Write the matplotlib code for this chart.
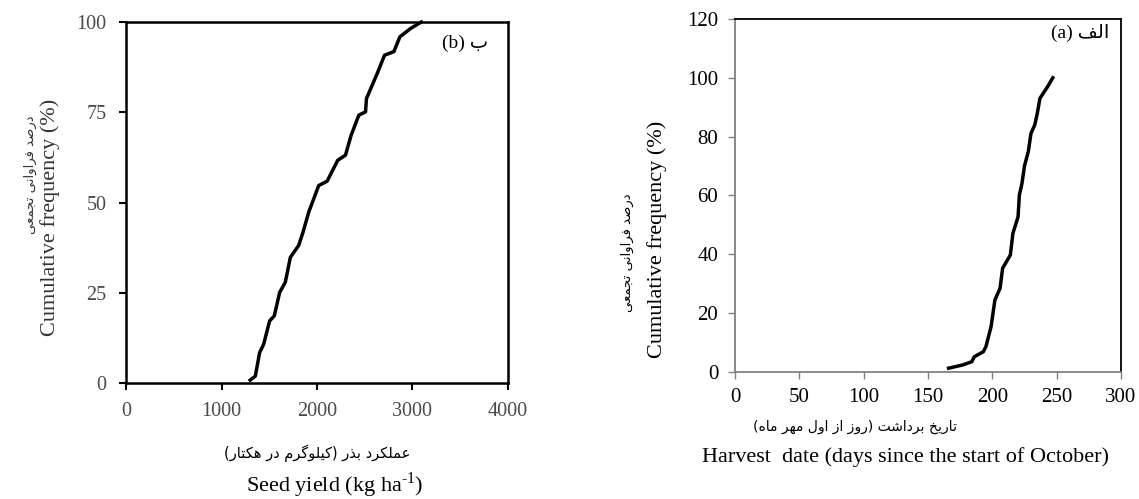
import matplotlib
matplotlib.use("Agg")
import matplotlib.pyplot as plt

plt.rcParams["font.family"] = ["Liberation Serif", "DejaVu Sans"]
plt.rcParams["mathtext.fontset"] = "custom"
plt.rcParams["mathtext.rm"] = "Liberation Serif"

# panel (b): seed yield cumulative frequency
yield_kg = [1300, 1354, 1399, 1441, 1504, 1553, 1609, 1668, 1721, 1808, 1854, 1913,
            2018, 2106, 2217, 2298, 2357, 2438, 2508, 2518, 2630, 2707, 2805, 2868,
            2980, 3092]
yield_cum = [0.8, 1.9, 8.4, 10.7, 17.2, 18.6, 25.1, 27.9, 34.8, 38.1, 41.8, 47.3,
             54.7, 55.9, 61.7, 63.1, 68.6, 74.2, 75.1, 78.8, 85.7, 90.8, 91.8, 95.9,
             98.2, 100]

# panel (a): harvest date cumulative frequency
harvest_day = [166, 177, 184, 186, 193, 195, 199, 202, 206, 208, 214, 216, 220, 221,
               223, 225, 228, 230, 233, 235, 237, 240, 243, 247]
harvest_cum = [1.2, 2.3, 3.4, 5.1, 6.8, 8.5, 15.3, 24.4, 28.4, 35.2, 39.7, 47.1, 52.7,
               60.1, 64, 70, 75, 81, 84, 88, 93, 95, 97, 100]

FORMS = {
    "ا": ("\uFE8D", "\uFE8E", None, None),
    "ب": ("\uFE8F", "\uFE90", "\uFE91", "\uFE92"),
    "ت": ("\uFE95", "\uFE96", "\uFE97", "\uFE98"),
    "ج": ("\uFE9D", "\uFE9E", "\uFE9F", "\uFEA0"),
    "خ": ("\uFEA5", "\uFEA6", "\uFEA7", "\uFEA8"),
    "د": ("\uFEA9", "\uFEAA", None, None),
    "ذ": ("\uFEAB", "\uFEAC", None, None),
    "ر": ("\uFEAD", "\uFEAE", None, None),
    "ز": ("\uFEAF", "\uFEB0", None, None),
    "ش": ("\uFEB5", "\uFEB6", "\uFEB7", "\uFEB8"),
    "ص": ("\uFEB9", "\uFEBA", "\uFEBB", "\uFEBC"),
    "ع": ("\uFEC9", "\uFECA", "\uFECB", "\uFECC"),
    "ف": ("\uFED1", "\uFED2", "\uFED3", "\uFED4"),
    "ل": ("\uFEDD", "\uFEDE", "\uFEDF", "\uFEE0"),
    "م": ("\uFEE1", "\uFEE2", "\uFEE3", "\uFEE4"),
    "ن": ("\uFEE5", "\uFEE6", "\uFEE7", "\uFEE8"),
    "ه": ("\uFEE9", "\uFEEA", "\uFEEB", "\uFEEC"),
    "و": ("\uFEED", "\uFEEE", None, None),
    "ی": ("\uFBFC", "\uFBFD", "\uFBFE", "\uFBFF"),
    "ک": ("\uFB8E", "\uFB8F", "\uFB90", "\uFB91"),
    "گ": ("\uFB92", "\uFB93", "\uFB94", "\uFB95"),
}


def fa(text):
    # poor man's arabic shaping + right-to-left ordering
    out = []
    for i, ch in enumerate(text):
        f = FORMS.get(ch)
        if f is None:
            out.append(ch)
            continue
        prev = text[i - 1] if i > 0 else ""
        nxt = text[i + 1] if i + 1 < len(text) else ""
        jp = prev in FORMS and FORMS[prev][2] is not None
        jn = f[2] is not None and nxt in FORMS
        if jp and jn:
            out.append(f[3])
        elif jp:
            out.append(f[1])
        elif jn:
            out.append(f[2])
        else:
            out.append(f[0])
    s = "".join(out)[::-1]
    return s.translate(str.maketrans("()", ")("))


W, H = 1139, 499
fig = plt.figure(figsize=(W / 100, H / 100), dpi=100)


def px(x, y):
    return x / W, 1 - y / H


PERSIAN = ["DejaVu Sans"]

# ---- left panel (b)
axb = fig.add_axes([126 / W, 1 - 383 / H, 382 / W, 361 / H])
axb.plot(yield_kg, yield_cum, color="black", lw=2.5, solid_joinstyle="round", clip_on=False)
axb.set_xlim(0, 4000)
axb.set_ylim(0, 100)
axb.set_xticks([0, 1000, 2000, 3000, 4000])
axb.set_yticks([0, 25, 50, 75, 100])
for s in axb.spines.values():
    s.set_linewidth(1.8)
    s.set_color("black")
axb.tick_params(direction="out", length=5, width=1.5, color="black",
                labelsize=14.5, labelcolor="#4a4a4a", pad=9)
axb.text(0.948, 0.94, "(b) " + fa("ب"), transform=axb.transAxes, ha="right", va="center",
         fontsize=14, family=["Liberation Serif", "DejaVu Sans"])

fig.text(*px(30, 175), fa("درصد فراوانی تجمعی"), rotation=90, ha="center", va="center",
         fontsize=9.5, family=PERSIAN, color="#333333")
fig.text(*px(50, 217), "Cumulative frequency (%)", rotation=90, ha="center", va="center",
         fontsize=16, color="#333333")
fig.text(*px(317, 453), fa("عملکرد بذر (کیلوگرم در هکتار)"), ha="center", va="center",
         fontsize=10.5, family=PERSIAN)
fig.text(*px(335, 485), r"Seed yield (kg ha$^{\text{-1}}$)", ha="center",
         va="center", fontsize=16)

# ---- right panel (a)
axa = fig.add_axes([735 / W, 1 - 371.7 / H, 386 / W, 352.7 / H])
axa.plot(harvest_day, harvest_cum, color="black", lw=2.5, solid_joinstyle="round")
axa.set_xlim(0, 300)
axa.set_ylim(0, 120)
axa.set_xticks(range(0, 301, 50))
axa.set_yticks(range(0, 121, 20))
for k in ("top", "right"):
    axa.spines[k].set_color("black")
    axa.spines[k].set_linewidth(1.3)
for k in ("left", "bottom"):
    axa.spines[k].set_color("#808080")
    axa.spines[k].set_linewidth(1.3)
axa.tick_params(direction="out", length=5, width=1.0, color="#808080",
                labelsize=15, labelcolor="black", pad=7)
axa.text(0.971, 0.96, "(a) " + fa("الف"), transform=axa.transAxes, ha="right", va="center",
         fontsize=14, family=["Liberation Serif", "DejaVu Sans"])

fig.text(*px(627, 253), fa("درصد فراوانی تجمعی"), rotation=90, ha="center", va="center",
         fontsize=9.5, family=PERSIAN)
fig.text(*px(657, 239), "Cumulative frequency (%)", rotation=90, ha="center", va="center",
         fontsize=16)
fig.text(*px(855, 427), fa("تاریخ برداشت (روز از اول مهر ماه)"), ha="center",
         va="center", fontsize=10, family=PERSIAN)
fig.text(*px(906, 457), "Harvest  date (days since the start of October)", ha="center",
         va="center", fontsize=16)

fig.savefig("out.png", dpi=100)
